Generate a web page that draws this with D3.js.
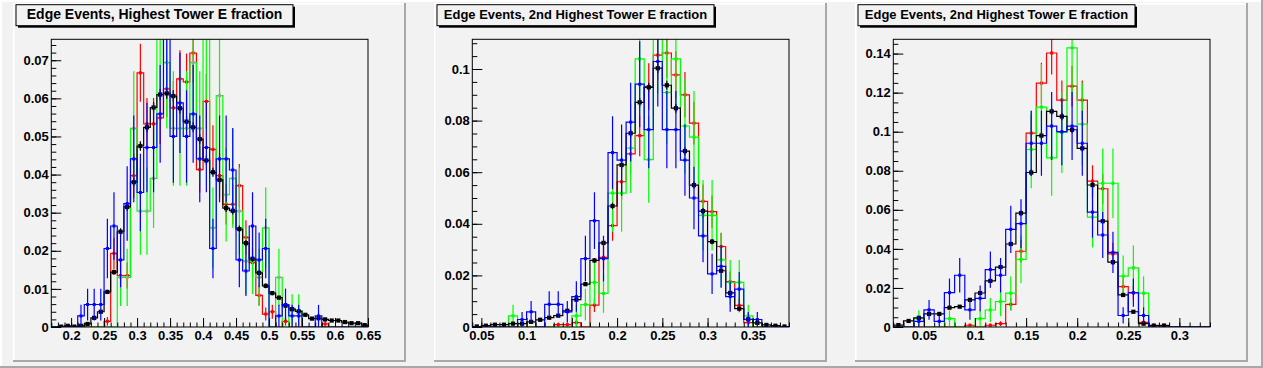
<!DOCTYPE html>
<html>
<head>
<meta charset="utf-8">
<script src="https://cdn.jsdelivr.net/npm/d3@7/dist/d3.min.js"></script>
<style>
html,body{margin:0;padding:0;background:#f2f2f2;}
svg{display:block;}
text{font-family:"Liberation Sans",Arial,Helvetica,sans-serif;font-weight:bold;}
</style>
</head>
<body>
<svg id="chart" width="1263" height="368"></svg>
<script>
// ================= DATA =================
const titles = [
  "Edge Events, Highest Tower E fraction",
  "Edge Events, 2nd Highest Tower E fraction",
  "Edge Events, 2nd Highest Tower E fraction"
];
const binWidth = 0.01;
// entries used for Poisson error bars (error = sqrt(value / entries))
const entriesRed = 1150, entriesGreen = 231, entriesBlue = 340, entriesBlack = 30000;

// ---- Panel 1 : bins of 0.01 from 0.17 to 0.65 ----
const p1Range = [0.17, 0.65];
const p1Black = [0, 0.0001, 0.0003, 0.0001, 0.0003, 0.0008, 0.0024, 0.0040, 0.0092, 0.0144, 0.0250, 0.0315, 0.0380, 0.0475, 0.0524, 0.0576, 0.0610, 0.0613, 0.0606, 0.0574, 0.0539, 0.0524, 0.0493, 0.0437, 0.0406, 0.0386, 0.0312, 0.0305, 0.0257, 0.0220, 0.0179, 0.0142, 0.0108, 0.0089, 0.0077, 0.0056, 0.0047, 0.0041, 0.0032, 0.0022, 0.0023, 0.0020, 0.0017, 0.0017, 0.0013, 0.0010, 0.0010, 0.0005];
const p1Red = [0, 0, 0, 0, 0, 0, 0, 0, 0.0015, 0.0193, 0.0135, 0.0135, 0.0397, 0.0667, 0.0533, 0.0533, 0.0549, 0.0625, 0.0575, 0.0651, 0.0643, 0.0719, 0.0413, 0.0592, 0.0466, 0.0397, 0.0322, 0.0322, 0.0371, 0.0235, 0.0169, 0.0083, 0.0034, 0.0040, 0, 0.0015, 0, 0, 0, 0, 0, 0.0008, 0, 0, 0, 0, 0, 0];
const p1Green = [0, 0, 0, 0, 0, 0, 0, 0, 0, 0, 0.0130, 0.0130, 0.0521, 0.0304, 0.0304, 0.0390, 0.0781, 0.0694, 0.0521, 0.0521, 0.0521, 0.0694, 0.0521, 0.0781, 0.0260, 0.0607, 0.0347, 0.0390, 0.0304, 0.0173, 0.0173, 0.0130, 0.0260, 0, 0.0130, 0, 0.0043, 0.0043, 0, 0, 0, 0, 0, 0, 0, 0, 0, 0];
const p1Blue = [0, 0, 0, 0, 0.0029, 0.0059, 0.0059, 0.0059, 0.0206, 0.0265, 0.0176, 0.0324, 0.0441, 0.0353, 0.0471, 0.0471, 0.0559, 0.0765, 0.0500, 0.0588, 0.0500, 0.0559, 0.0441, 0.0471, 0.0206, 0.0441, 0.0441, 0.0412, 0.0176, 0.0147, 0.0265, 0.0176, 0.0206, 0, 0.0029, 0.0059, 0.0029, 0.0029, 0, 0, 0.0029, 0, 0, 0, 0, 0, 0, 0];
const p1XTicks = [0.2, 0.25, 0.3, 0.35, 0.4, 0.45, 0.5, 0.55, 0.6, 0.65];
const p1YTicks = [0, 0.01, 0.02, 0.03, 0.04, 0.05, 0.06, 0.07];
const p1YMinorStep = 0.002;

// ---- Panel 2 : bins of 0.01 from 0.04 to 0.39 ----
const p2Range = [0.04, 0.39];
const p2Black = [0.0002, 0.0005, 0.0009, 0.0009, 0.0013, 0.0013, 0.0020, 0.0028, 0.0036, 0.0044, 0.0063, 0.0106, 0.0166, 0.0258, 0.0326, 0.0469, 0.0628, 0.0751, 0.0871, 0.0929, 0.1003, 0.0937, 0.0848, 0.0682, 0.0550, 0.0449, 0.0331, 0.0218, 0.0132, 0.0071, 0.0030, 0.0016, 0.0008, 0.0005, 0.0002];
const p2Red = [0, 0, 0, 0, 0, 0, 0, 0, 0, 0.0009, 0.0009, 0.0017, 0, 0.0085, 0.0270, 0.0393, 0.0563, 0.0671, 0.0742, 0.0932, 0.1054, 0.1062, 0.0977, 0.0900, 0.0790, 0.0487, 0.0447, 0.0312, 0.0176, 0.0084, 0.0017, 0, 0, 0, 0];
const p2Green = [0, 0, 0, 0, 0.0043, 0, 0, 0, 0, 0, 0, 0.0043, 0.0087, 0.0173, 0.0130, 0.0519, 0.0519, 0.0693, 0.1039, 0.0649, 0.1126, 0.0909, 0.1039, 0.0779, 0.0736, 0.0433, 0.0433, 0.0260, 0.0173, 0.0173, 0.0043, 0, 0, 0, 0];
const p2Blue = [0, 0, 0, 0, 0, 0.0029, 0.0059, 0, 0.0088, 0.0088, 0.0059, 0.0118, 0.0265, 0.0412, 0.0265, 0.0676, 0.0647, 0.0794, 0.0941, 0.0765, 0.1029, 0.0765, 0.0765, 0.0647, 0.0500, 0.0353, 0.0206, 0.0235, 0.0118, 0.0147, 0.0029, 0.0029, 0, 0, 0];
const p2XTicks = [0.05, 0.1, 0.15, 0.2, 0.25, 0.3, 0.35];
const p2YTicks = [0, 0.02, 0.04, 0.06, 0.08, 0.1];
const p2YMinorStep = 0.005;

// ---- Panel 3 : bins of 0.01 from 0.02 to 0.33 ----
const p3Range = [0.02, 0.33];
const p3Black = [0.0010, 0.0031, 0.0047, 0.0067, 0.0067, 0.0099, 0.0104, 0.0139, 0.0174, 0.0236, 0.0307, 0.0425, 0.0583, 0.0791, 0.0980, 0.1104, 0.1078, 0.1010, 0.0915, 0.0727, 0.0542, 0.0332, 0.0164, 0.0078, 0.0017, 0.0007, 0.0007, 0, 0, 0, 0];
const p3Red = [0, 0, 0, 0, 0, 0, 0, 0.0009, 0, 0.0009, 0.0017, 0.0116, 0.0388, 0.0993, 0.1249, 0.1403, 0.1162, 0.1233, 0.1162, 0.0747, 0.0708, 0.0374, 0.0207, 0.0174, 0.0024, 0.0009, 0.0009, 0, 0, 0, 0];
const p3Green = [0, 0, 0.0043, 0, 0, 0.0043, 0, 0, 0.0043, 0.0087, 0.0130, 0.0173, 0.0346, 0.0909, 0.1126, 0.0866, 0.0996, 0.1429, 0.1039, 0.0563, 0.0736, 0.0736, 0.0260, 0.0303, 0.0173, 0, 0, 0, 0, 0, 0];
const p3Blue = [0, 0, 0.0029, 0.0088, 0.0029, 0.0176, 0.0265, 0.0088, 0.0147, 0.0294, 0.0265, 0.0500, 0.0529, 0.0941, 0.0941, 0.1029, 0.1000, 0.1029, 0.0941, 0.0588, 0.0471, 0.0382, 0.0059, 0.0176, 0.0059, 0, 0, 0, 0, 0, 0];
const p3XTicks = [0.05, 0.1, 0.15, 0.2, 0.25, 0.3];
const p3YTicks = [0, 0.02, 0.04, 0.06, 0.08, 0.1, 0.12, 0.14];
const p3YMinorStep = 0.005;

// ================= STYLE / LAYOUT =================
const W = 1263, H = 368;
const BG = "#f2f2f2";
const padStep = 421, padX0 = 13, padW = 393, padY0 = 3, padY1 = 362;
const frameL = 38.3, frameR = 38, frameTop = 39.3, frameBottom = 327;
const colors = { red: "#ff0000", green: "#00ff00", black: "#000000", blue: "#0000ff" };
const entries = { red: entriesRed, green: entriesGreen, black: entriesBlack, blue: entriesBlue };
const drawOrder = ["red", "green", "black", "blue"];
const LW = 1.2;

const panels = [
  { title: titles[0], range: p1Range, red: p1Red, green: p1Green, black: p1Black, blue: p1Blue,
    xTicks: p1XTicks, yTicks: p1YTicks, yMinor: p1YMinorStep, greenMarker: "#a0a0a0", titleSize: 14, titleW: 255.5 },
  { title: titles[1], range: p2Range, red: p2Red, green: p2Green, black: p2Black, blue: p2Blue,
    xTicks: p2XTicks, yTicks: p2YTicks, yMinor: p2YMinorStep, greenMarker: "#00ff00", titleSize: 13, titleW: 263.3 },
  { title: titles[2], range: p3Range, red: p3Red, green: p3Green, black: p3Black, blue: p3Blue,
    xTicks: p3XTicks, yTicks: p3YTicks, yMinor: p3YMinorStep, greenMarker: "#00ff00", titleSize: 13, titleW: 263.3 }
];

const fmt = d => d === 0 ? "0" : String(+d.toFixed(4));

const svg = d3.select("#chart");
svg.append("rect").attr("width", W).attr("height", H).attr("fill", BG);
// canvas bevel
svg.append("rect").attr("x", 0).attr("y", 0).attr("width", W).attr("height", 2).attr("fill", "#ffffff");
svg.append("rect").attr("x", 0).attr("y", 0).attr("width", 2).attr("height", H).attr("fill", "#ffffff");
svg.append("rect").attr("x", 0).attr("y", H - 2).attr("width", W).attr("height", 2).attr("fill", "#a8a8a8");
svg.append("rect").attr("x", W - 2).attr("y", 0).attr("width", 2).attr("height", H).attr("fill", "#a8a8a8");

panels.forEach((p, i) => {
  const px = padX0 + i * padStep;
  const g = svg.append("g");

  // pad bevel
  const ph = padY1 - padY0;
  g.append("rect").attr("x", px).attr("y", padY0).attr("width", padW).attr("height", ph).attr("fill", BG);
  g.append("rect").attr("x", px).attr("y", padY0).attr("width", padW).attr("height", 1.5).attr("fill", "#ffffff");
  g.append("rect").attr("x", px).attr("y", padY0).attr("width", 1.5).attr("height", ph).attr("fill", "#ffffff");
  g.append("rect").attr("x", px).attr("y", padY1 - 2).attr("width", padW).attr("height", 2).attr("fill", "#a8a8a8");
  g.append("rect").attr("x", px + padW - 2).attr("y", padY0).attr("width", 2).attr("height", ph).attr("fill", "#a8a8a8");

  const x = d3.scaleLinear().domain(p.range).range([px + frameL, px + padW - frameR]);
  const yMax = 1.05 * d3.max(p.red);
  const y = d3.scaleLinear().domain([0, yMax]).range([frameBottom, frameTop]);
  const [fx0, fx1] = x.range();

  // frame fill
  g.append("rect").attr("x", fx0).attr("y", frameTop).attr("width", fx1 - fx0).attr("height", frameBottom - frameTop).attr("fill", BG);

  const clipId = "clip" + i;
  svg.append("clipPath").attr("id", clipId).append("rect")
    .attr("x", fx0).attr("y", frameTop).attr("width", fx1 - fx0).attr("height", frameBottom - frameTop);
  const plot = g.append("g").attr("clip-path", `url(#${clipId})`);

  const lo = p.range[0];
  drawOrder.forEach(name => {
    const vals = p[name];
    const n = vals.length;
    const edges = d3.range(n + 1).map(k => lo + k * binWidth);
    const pts = [[edges[0], 0]];
    vals.forEach((v, k) => { pts.push([edges[k], v]); pts.push([edges[k + 1], v]); });
    pts.push([edges[n], 0]);
    plot.append("path")
      .attr("d", d3.line().x(d => x(d[0])).y(d => y(d[1]))(pts))
      .attr("fill", "none").attr("stroke", colors[name]).attr("stroke-width", LW)
      .attr("stroke-linejoin", "miter");

    const N = entries[name];
    const nz = vals.map((v, k) => ({ v, c: lo + (k + 0.5) * binWidth, e: Math.sqrt(v / N) })).filter(d => d.v > 0);
    plot.append("g").selectAll("line").data(nz).join("line")
      .attr("x1", d => x(d.c)).attr("x2", d => x(d.c))
      .attr("y1", d => y(Math.max(0, d.v - d.e))).attr("y2", d => y(d.v + d.e))
      .attr("stroke", colors[name]).attr("stroke-width", LW);

    const ms = name === "black" ? 4.2 : 3;
    const mc = name === "green" ? p.greenMarker : colors[name];
    plot.append("g").selectAll("rect").data(nz.filter(d => d.v <= yMax)).join("rect")
      .attr("x", d => x(d.c) - ms / 2).attr("y", d => y(d.v) - ms / 2)
      .attr("width", ms).attr("height", ms).attr("fill", mc);
  });

  // frame border
  g.append("rect").attr("x", fx0).attr("y", frameTop).attr("width", fx1 - fx0).attr("height", frameBottom - frameTop)
    .attr("fill", "none").attr("stroke", "#000").attr("stroke-width", 1);

  // y axis
  const yMinors = d3.range(0, Math.floor(yMax / p.yMinor + 1e-6) + 1).map(k => +(k * p.yMinor).toFixed(5));
  const yMin = g.append("g").attr("transform", `translate(${fx0},0)`)
    .call(d3.axisLeft(y).tickValues(yMinors).tickSize(-5).tickFormat(""));
  yMin.select(".domain").remove();
  const yAx = g.append("g").attr("transform", `translate(${fx0},0)`)
    .call(d3.axisLeft(y).tickValues(p.yTicks).tickSize(-10).tickPadding(2.5).tickFormat(fmt));
  yAx.select(".domain").remove();
  yAx.attr("font-size", 13).attr("font-family", null);

  // x axis
  const nx = Math.round((p.range[1] - p.range[0]) / binWidth);
  const xMinors = d3.range(0, nx + 1).map(k => +(lo + k * binWidth).toFixed(5));
  const xMin = g.append("g").attr("transform", `translate(0,${frameBottom})`)
    .call(d3.axisBottom(x).tickValues(xMinors).tickSize(-4.5).tickFormat(""));
  xMin.select(".domain").remove();
  const xAx = g.append("g").attr("transform", `translate(0,${frameBottom})`)
    .call(d3.axisBottom(x).tickValues(p.xTicks).tickSize(-9).tickPadding(4).tickFormat(fmt));
  xAx.select(".domain").remove();
  xAx.attr("font-size", 13).attr("font-family", null);

  // title box
  const tb = { x: px + 3, y: 4.7, w: 277, h: 21 };
  g.append("rect").attr("x", tb.x + 2).attr("y", tb.y + 2).attr("width", tb.w).attr("height", tb.h).attr("fill", "#000");
  g.append("rect").attr("x", tb.x).attr("y", tb.y).attr("width", tb.w).attr("height", tb.h)
    .attr("fill", BG).attr("stroke", "#000").attr("stroke-width", 1);
  g.append("text").attr("x", tb.x + tb.w / 2).attr("y", 19.4).attr("text-anchor", "middle")
    .attr("font-size", p.titleSize).attr("textLength", p.titleW).attr("lengthAdjust", "spacingAndGlyphs")
    .attr("fill", "#000").text(p.title);
});
</script>
</body>
</html>
